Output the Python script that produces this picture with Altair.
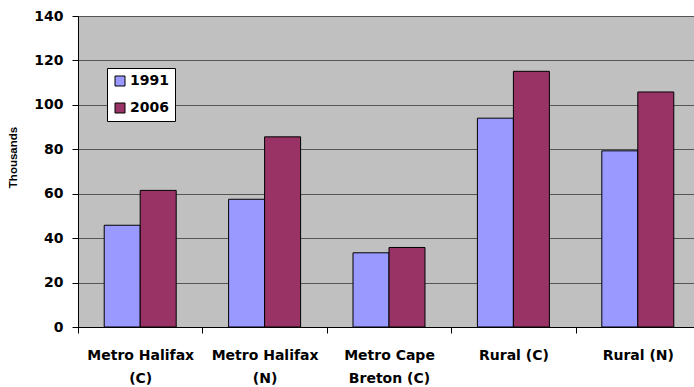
import altair as alt
import pandas as pd

# Regions (line break marks where the axis label wraps)
regions = [
    "Metro Halifax\n(C)",
    "Metro Halifax\n(N)",
    "Metro Cape\nBreton (C)",
    "Rural (C)",
    "Rural (N)",
]
years = ["1991", "2006"]
values_1991 = [45.8, 57.5, 33.4, 94.0, 79.3]
values_2006 = [61.5, 85.6, 35.8, 115.1, 105.8]
y_ticks = [0, 20, 40, 60, 80, 100, 120, 140]
colors = ["#9999FF", "#993366"]

rows = []
for r, a, b in zip(regions, values_1991, values_2006):
    rows.append({"region": r, "year": years[0], "value": a})
    rows.append({"region": r, "year": years[1], "value": b})
df = pd.DataFrame(rows)

FONT = "DejaVu Sans"

bars = alt.Chart(df).mark_bar(stroke="black", strokeWidth=1).encode(
    x=alt.X(
        "region:N",
        sort=regions,
        scale=alt.Scale(range=[0, 622], paddingInner=0, paddingOuter=0),
        axis=alt.Axis(
            title=None,
            labelAngle=0,
            labelExpr="isString(datum.value) ? split(datum.value, '\\n') : ''",
            labelFont=FONT,
            labelFontWeight="bold",
            labelFontSize=14,
            labelColor="black",
            labelLineHeight=23,
            labelPadding=15,
            labelBaseline="top",
            tickBand="extent",
            tickSize=6,
            tickColor="black",
            domainColor="black",
            grid=False,
        ),
    ),
    xOffset=alt.XOffset(
        "year:N",
        sort=years,
        scale=alt.Scale(paddingInner=0, paddingOuter=0.728),
    ),
    y=alt.Y(
        "value:Q",
        scale=alt.Scale(domain=[0, 140], nice=False),
        axis=alt.Axis(
            values=y_ticks,
            title="Thousands",
            titleFont="Liberation Sans",
            titleFontWeight="bold",
            titleFontSize=11.5,
            titleColor="black",
            titleAngle=270,
            titleX=-65,
            titleY=141,
            titleAlign="center",
            titleBaseline="middle",
            labelFont=FONT,
            labelFontWeight="bold",
            labelFontSize=14,
            labelColor="black",
            labelPadding=9,
            tickSize=6,
            tickColor="black",
            domainColor="black",
            gridColor="#555555",
            gridWidth=1.2,
        ),
    ),
    color=alt.Color(
        "year:N",
        sort=years,
        scale=alt.Scale(domain=years, range=colors),
        legend=alt.Legend(
            title=None,
            orient="none",
            legendX=29,
            legendY=52,
            direction="vertical",
            fillColor="white",
            strokeColor="black",
            padding=6,
            rowPadding=13,
            symbolType="square",
            symbolSize=100,
            symbolStrokeColor="black",
            symbolStrokeWidth=1,
            symbolOpacity=1,
            labelFont=FONT,
            labelFontWeight="bold",
            labelFontSize=14,
            labelColor="black",
            labelOffset=3,
        ),
    ),
)

chart = bars.properties(
    width=616,
    height=311,
    background="white",
    padding={"left": 78, "top": 16, "right": 0, "bottom": 60},
    autosize=alt.AutoSizeParams(type="none"),
).configure_view(
    fill="#C0C0C0",
    stroke=None,
)

chart.save("out.html", embed_options={"renderer": "svg", "actions": False})
